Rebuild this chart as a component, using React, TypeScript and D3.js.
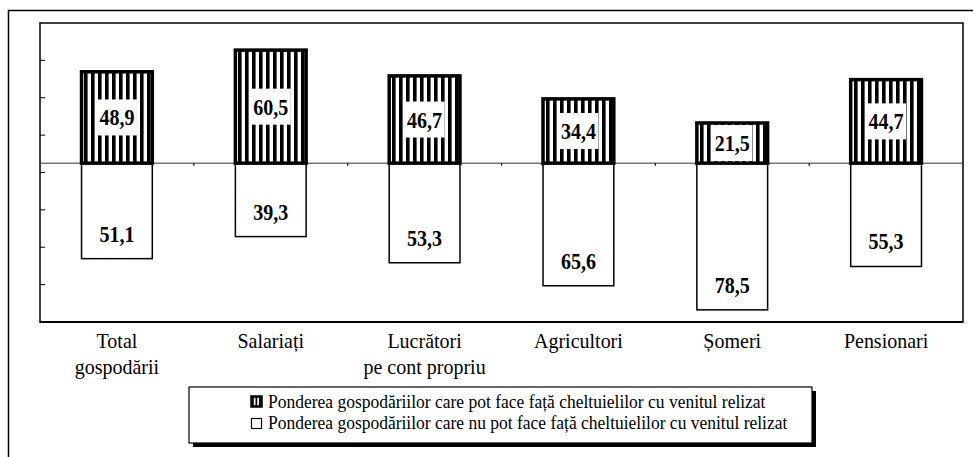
import React from 'react';
import * as d3 from 'd3';

const categories = ['Total gospodării', 'Salariați', 'Lucrători pe cont propriu', 'Agricultori', 'Șomeri', 'Pensionari'];
const categoryLines = [['Total', 'gospodării'], ['Salariați'], ['Lucrători', 'pe cont propriu'], ['Agricultori'], ['Șomeri'], ['Pensionari']];
const canCover = [48.9, 60.5, 46.7, 34.4, 21.5, 44.7];
const cannotCover = [51.1, 39.3, 53.3, 65.6, 78.5, 55.3];
const legendLabels = [
  'Ponderea gospodăriilor care pot face față cheltuielilor cu venitul relizat',
  'Ponderea gospodăriilor care nu pot face față cheltuielilor cu venitul relizat',
];

const W = 973;
const H = 457;
const plot = { left: 40, right: 963, top: 23, bottom: 322 };
const font = 'Liberation Serif';

const fmt = (v: number) => v.toFixed(1).replace('.', ',');

export default function App() {
  const x = d3.scaleBand<string>()
    .domain(categories)
    .range([plot.left, plot.right])
    .paddingInner(0.54)
    .paddingOuter(0.27);

  const y = d3.scaleLinear()
    .domain([-85, 75])
    .range([plot.bottom, plot.top]);

  const ticks = d3.range(-85, 76, 20);
  const zero = y(0);
  const step = x.step();

  return (
    <svg width={W} height={H} style={{ position: 'absolute', left: 0, top: 0, background: '#fff' }}>
      <defs>
        <pattern id="stripes" patternUnits="userSpaceOnUse" width={7} height={10}>
          <rect width={7} height={10} fill="#fff" />
          <rect width={3.6} height={10} fill="#000" />
        </pattern>
        <pattern id="stripesSmall" patternUnits="userSpaceOnUse" width={3.5} height={10}>
          <rect width={3.5} height={10} fill="#fff" />
          <rect width={1.8} height={10} fill="#000" />
        </pattern>
      </defs>

      {/* outer frame */}
      <rect x={8.5} y={10.5} width={W + 10} height={H + 10} fill="none" stroke="#000" strokeWidth={1.5} />

      {/* plot area */}
      <rect x={plot.left} y={plot.top} width={plot.right - plot.left} height={plot.bottom - plot.top}
        fill="#fff" stroke="#000" strokeWidth={1.5} />
      <line x1={plot.left} x2={plot.right} y1={plot.bottom} y2={plot.bottom} stroke="#000" strokeWidth={2} />

      {ticks.slice(1, -1).map(t => (
        <line key={t} x1={plot.left} x2={plot.left + 5} y1={y(t)} y2={y(t)} stroke="#000" strokeWidth={1} />
      ))}

      {/* zero line */}
      <line x1={plot.left} x2={plot.right} y1={zero} y2={zero} stroke="#333" strokeWidth={1} />
      {d3.range(1, categories.length).map(i => (
        <line key={i} x1={plot.left + step * i} x2={plot.left + step * i} y1={zero} y2={zero + 2.5} stroke="#000" strokeWidth={1.2} />
      ))}

      {/* lower bars */}
      {categories.map((c, i) => {
        const bx = x(c)!;
        const v = cannotCover[i];
        const bottom = y(-v);
        return (
          <g key={'n' + c}>
            <rect x={bx} y={zero} width={x.bandwidth()} height={bottom - zero} fill="#fff" stroke="#000" strokeWidth={1.5} />
            <text transform={`translate(${bx + x.bandwidth() / 2},${bottom - 25 + 8}) scale(1,1.2)`}
              textAnchor="middle" fontWeight="bold" fontSize={20} fontFamily={font}>{fmt(v)}</text>
          </g>
        );
      })}

      {/* upper bars */}
      {categories.map((c, i) => {
        const bx = x(c)!;
        const v = canCover[i];
        const top = y(v);
        const mid = (top + zero) / 2;
        const cx = bx + x.bandwidth() / 2;
        return (
          <g key={'p' + c}>
            <rect x={bx} y={top} width={x.bandwidth()} height={zero - top} fill="url(#stripes)" stroke="#000" strokeWidth={3.5} />
            <rect x={cx - 20} y={Math.max(mid - 18, top + 2)} width={40} height={Math.min(36, zero - top - 4)} fill="#fff" />
            <text transform={`translate(${cx},${mid + 8}) scale(1,1.2)`}
              textAnchor="middle" fontWeight="bold" fontSize={20} fontFamily={font}>{fmt(v)}</text>
          </g>
        );
      })}

      {/* category labels */}
      {categories.map((c, i) => (
        <g key={'l' + c}>
          {categoryLines[i].map((line, j) => (
            <text key={j} transform={`translate(${x(c)! + x.bandwidth() / 2},${348 + j * 26}) scale(1,1.1)`}
              textAnchor="middle" fontSize={20} fontFamily={font}>{line}</text>
          ))}
        </g>
      ))}

      {/* legend */}
      <rect x={193} y={391} width={623} height={56} fill="#000" />
      <rect x={189} y={387} width={623} height={56} fill="#fff" stroke="#000" strokeWidth={1.2} />
      <rect x={251.5} y={396.5} width={10} height={10} fill="url(#stripesSmall)" stroke="#000" strokeWidth={2.5} />
      <rect x={251.5} y={418.5} width={10} height={10} fill="#fff" stroke="#000" strokeWidth={1.2} />
      {legendLabels.map((l, i) => (
        <text key={l} transform={`translate(268,${408 + i * 21}) scale(1,1.1)`} fontSize={17.5} fontFamily={font}>{l}</text>
      ))}
    </svg>
  );
}
